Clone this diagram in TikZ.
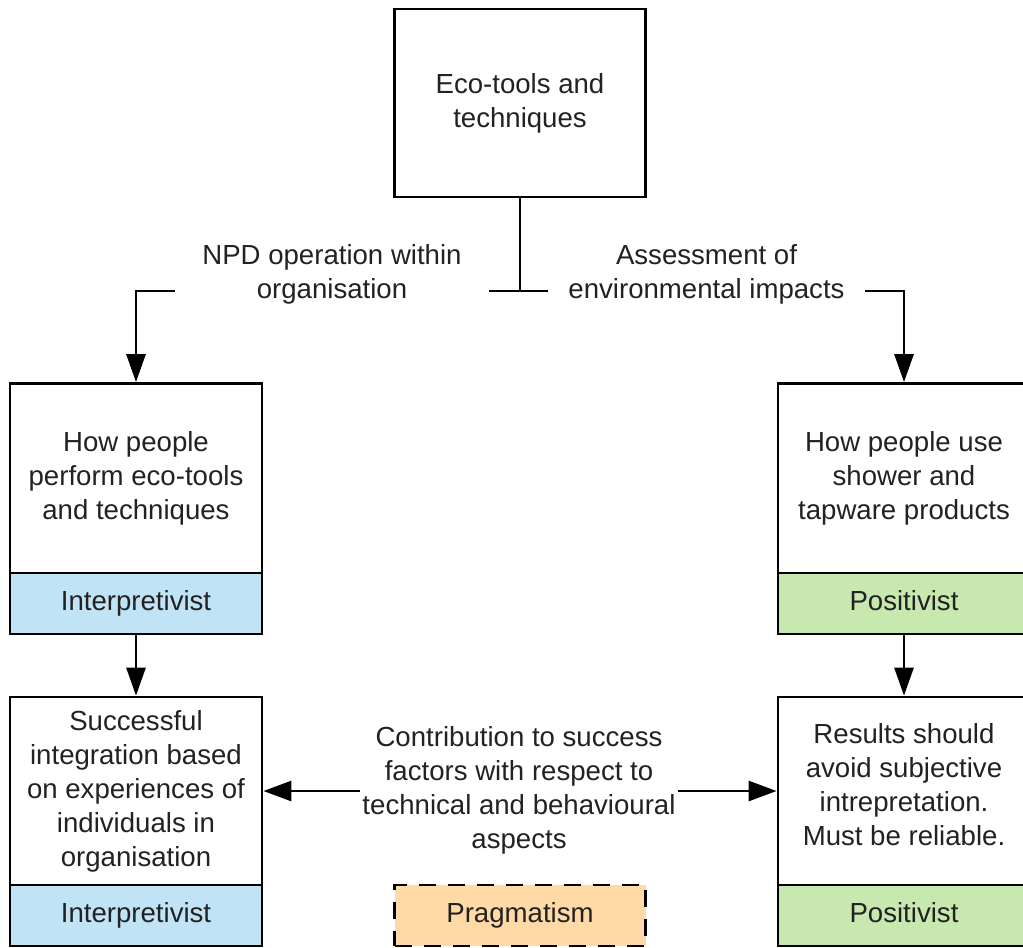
\documentclass[tikz,border=0pt]{standalone}
\usepackage{fontspec}
\setmainfont{Liberation Sans}
\usetikzlibrary{arrows.meta}
\definecolor{interp}{HTML}{C1E3F6}
\definecolor{posit}{HTML}{C7E8AE}
\definecolor{pragm}{HTML}{FFD9A6}
\definecolor{ink}{HTML}{222222}
\begin{document}
\begin{tikzpicture}[x=1pt,y=-1pt,
  font=\fontsize{27.6}{34}\selectfont,
  every node/.style={text=ink},
  box/.style={draw=black, line width=2.8pt, fill=white, rectangle, align=center,
    minimum width=252pt, inner sep=0pt},
  body/.style={box, minimum height=190pt},
  tag/.style={box, minimum height=61pt, text height=20pt, text depth=6pt},
  lbl/.style={fill=white, align=center, inner sep=2pt},
  conn/.style={draw=black, line width=2.8pt, line join=miter},
  tip/.style={-{Triangle[length=28pt,width=19pt]}},
  both/.style={{Triangle[length=28pt,width=20pt]}-{Triangle[length=28pt,width=20pt]}}
]
\useasboundingbox (0,0) rectangle (1023,948);
\clip (0,0) rectangle (1023,948);

% boxes
\node[box, minimum width=251pt, minimum height=188pt] (eco) at (520,103) {Eco-tools and\\techniques};

\node[body] (perf) at (136,478.5) {How people\\perform eco-tools\\and techniques};
\node[tag, fill=interp] (perfI) at (136,603.5) {Interpretivist};

\node[body] (use) at (904,478.5) {How people use\\shower and\\tapware products};
\node[tag, fill=posit] (useP) at (904,603.5) {Positivist};

\node[body, minimum height=188pt] (succ) at (136,791) {Successful\\integration based\\on experiences of\\individuals in\\organisation};
\node[tag, fill=interp] (succI) at (136,915.5) {Interpretivist};

\node[body, minimum height=188pt] (res) at (904,791) {\raisebox{3pt}[\height][\depth]{\begin{tabular}{@{}c@{}}Results should\\avoid subjective\\intrepretation.\\Must be reliable.\end{tabular}}};
\node[tag, fill=posit] (resP) at (904,915.5) {Positivist};

\node[tag, minimum width=251pt, fill=pragm, dash pattern=on 17pt off 12pt] (prag) at (520,915.5) {Pragmatism};

% branching connector from the top box
\coordinate (junc) at (520,291);
\coordinate (lk) at (136,291);
\coordinate (rk) at (904,291);
\draw[conn] (eco.south) -- (junc);
\draw[conn, tip] (junc) -- (lk) -- (perf.north);
\draw[conn, tip] (junc) -- (rk) -- (use.north);
\node[lbl, minimum width=314pt] (npd) at (332,274) {NPD operation within\\organisation};
\node[lbl, minimum width=317pt] (assess) at (706.5,274) {Assessment of\\environmental impacts};

% vertical links
\draw[conn, tip] (perfI.south) -- (succ.north);
\draw[conn, tip] (useP.south) -- (res.north);

% two-way link
\draw[conn, both] (succ.east) -- (res.west);
\node[lbl] (contrib) at (519,790) {Contribution to success\\factors with respect to\\technical and behavioural\\aspects};
\end{tikzpicture}
\end{document}
